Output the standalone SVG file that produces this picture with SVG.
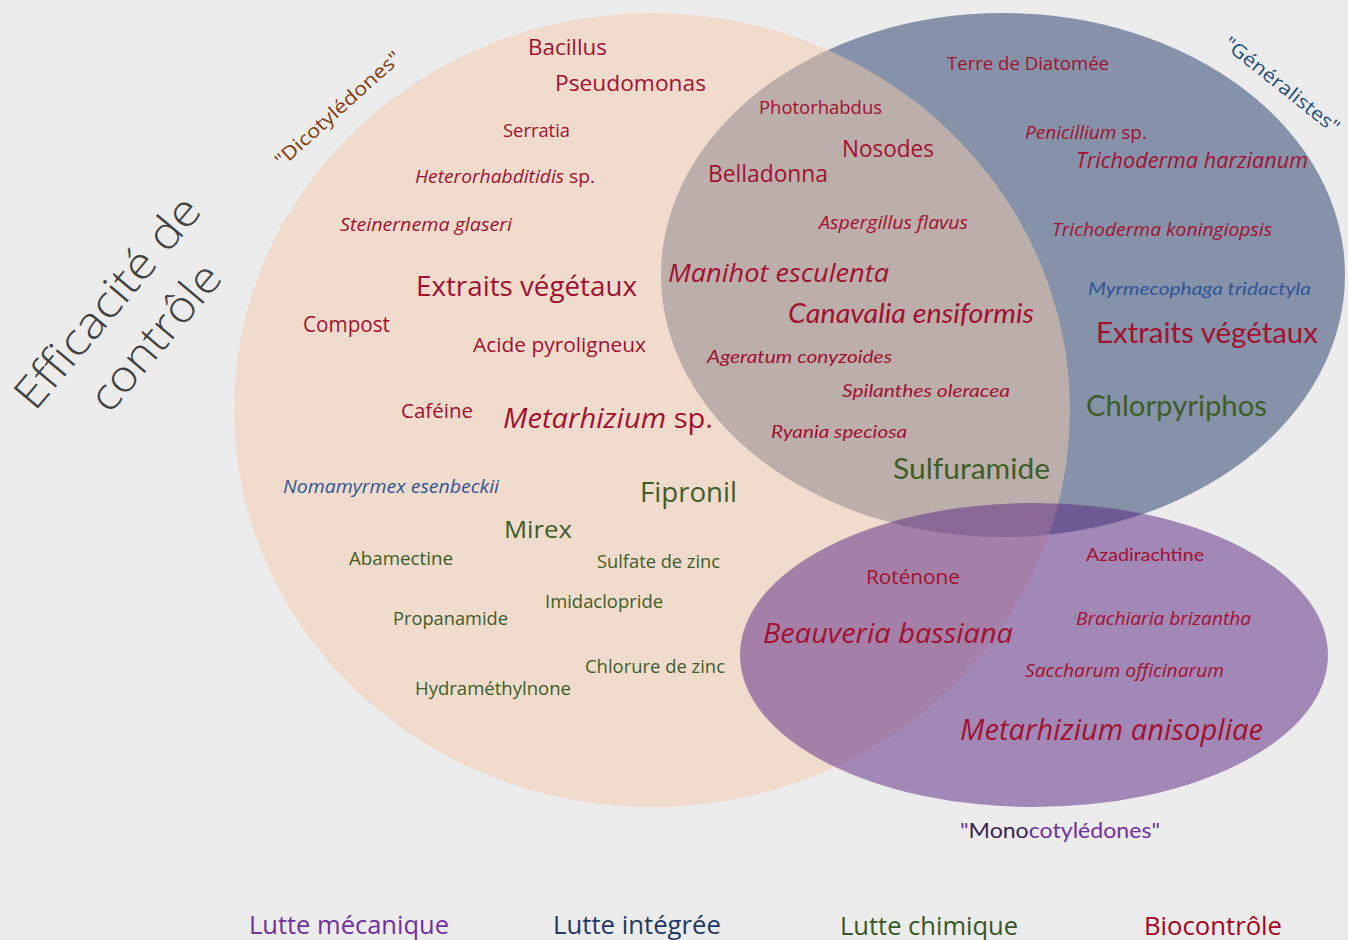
<svg xmlns="http://www.w3.org/2000/svg" width="1348" height="940" viewBox="0 0 1348 940">
<style>
text{font-family:"Open Sans","Noto Sans","DejaVu Sans",sans-serif;}
.n{font-family:Lato,"Open Sans","Liberation Sans",sans-serif;}
.r{fill:#a2112f;}
.g{fill:#3e5e26;}
.b{fill:#2f5597;}
.i{font-style:italic;}
.s{font-size:18px;}
</style>
<rect x="0" y="0" width="1348" height="940" fill="#ececec"/>
<g id="sets">
<ellipse id="generalistes" cx="1003" cy="275" rx="342" ry="262" fill="#8592a9"/>
<ellipse id="dicotyledones" cx="652" cy="410" rx="418" ry="397" fill="#f4caae" fill-opacity="0.5"/>
<ellipse id="monocotyledones" cx="1034" cy="655" rx="294" ry="152" fill="#582482" fill-opacity="0.5"/>
</g>
<g id="set-labels">
<text transform="translate(282,168) rotate(-42)" font-size="19" fill="#843c0c" textLength="162" lengthAdjust="spacingAndGlyphs">"Dicotylédones"</text>
<text transform="translate(1222,46) rotate(38.5)" font-size="19" fill="#1f4e79" textLength="142" lengthAdjust="spacingAndGlyphs">"Généralistes"</text>
<text class="n" x="960" y="838" font-size="21" fill="#7030a0" textLength="200" lengthAdjust="spacingAndGlyphs">"<tspan fill="#3a1f50">Mono</tspan>cotylédones"</text>
<g transform="translate(119,312) rotate(-50)" fill="#404040" font-size="44" font-weight="300">
<text x="0" y="0" text-anchor="middle" textLength="262" lengthAdjust="spacingAndGlyphs">Efficacité de</text>
<text x="4" y="59" text-anchor="middle" textLength="178" lengthAdjust="spacingAndGlyphs">contrôle</text>
</g>
</g>
<g id="dicot-items">
<text class="r" x="528" y="55" font-size="21" textLength="79" lengthAdjust="spacingAndGlyphs">Bacillus</text>
<text class="r" x="555" y="91" font-size="22" textLength="151" lengthAdjust="spacingAndGlyphs">Pseudomonas</text>
<text class="r s" x="503" y="137" textLength="67" lengthAdjust="spacingAndGlyphs">Serratia</text>
<text class="r s" x="415" y="183" textLength="180" lengthAdjust="spacingAndGlyphs"><tspan class="i">Heterorhabditidis</tspan> sp.</text>
<text class="r s i" x="340" y="231" textLength="172" lengthAdjust="spacingAndGlyphs">Steinernema glaseri</text>
<text class="r" x="416" y="296" font-size="28" textLength="221" lengthAdjust="spacingAndGlyphs">Extraits végétaux</text>
<text class="r" x="303" y="332" font-size="21" textLength="87" lengthAdjust="spacingAndGlyphs">Compost</text>
<text class="r" x="473" y="352" font-size="20" textLength="173" lengthAdjust="spacingAndGlyphs">Acide pyroligneux</text>
<text class="r" x="401" y="418" font-size="20" textLength="72" lengthAdjust="spacingAndGlyphs">Caféine</text>
<text class="r" x="503" y="428" font-size="27" textLength="210" lengthAdjust="spacingAndGlyphs"><tspan class="i">Metarhizium</tspan> sp.</text>
<text class="b s i" x="283" y="493" textLength="216" lengthAdjust="spacingAndGlyphs">Nomamyrmex esenbeckii</text>
<text class="g" x="640" y="502" font-size="27" textLength="97" lengthAdjust="spacingAndGlyphs">Fipronil</text>
<text class="g" x="504" y="538" font-size="23" textLength="68" lengthAdjust="spacingAndGlyphs">Mirex</text>
<text class="g s" x="349" y="565" textLength="104" lengthAdjust="spacingAndGlyphs">Abamectine</text>
<text class="g s" x="597" y="568" textLength="123" lengthAdjust="spacingAndGlyphs">Sulfate de zinc</text>
<text class="g s" x="545" y="608" textLength="118" lengthAdjust="spacingAndGlyphs">Imidaclopride</text>
<text class="g s" x="393" y="625" textLength="115" lengthAdjust="spacingAndGlyphs">Propanamide</text>
<text class="g s" x="585" y="673" textLength="140" lengthAdjust="spacingAndGlyphs">Chlorure de zinc</text>
<text class="g s" x="415" y="695" textLength="156" lengthAdjust="spacingAndGlyphs">Hydraméthylnone</text>
</g>
<g id="shared-items">
<text class="r s" x="759" y="114" textLength="123" lengthAdjust="spacingAndGlyphs">Photorhabdus</text>
<text class="r" x="842" y="157" font-size="23" textLength="92" lengthAdjust="spacingAndGlyphs">Nosodes</text>
<text class="r" x="708" y="182" font-size="23" textLength="120" lengthAdjust="spacingAndGlyphs">Belladonna</text>
<text class="r s i" x="819" y="229" textLength="149" lengthAdjust="spacingAndGlyphs">Aspergillus flavus</text>
<text class="r i" x="668" y="282" font-size="26" textLength="221" lengthAdjust="spacingAndGlyphs">Manihot esculenta</text>
<text class="r i n" x="788" y="323" font-size="27" textLength="246" lengthAdjust="spacingAndGlyphs">Canavalia ensiformis</text>
<text class="r s i n" x="707" y="363" textLength="185" lengthAdjust="spacingAndGlyphs">Ageratum conyzoides</text>
<text class="r s i n" x="842" y="397" textLength="168" lengthAdjust="spacingAndGlyphs">Spilanthes oleracea</text>
<text class="r s i n" x="771" y="438" textLength="136" lengthAdjust="spacingAndGlyphs">Ryania speciosa</text>
<text class="g n" x="893" y="479" font-size="29" textLength="157" lengthAdjust="spacingAndGlyphs">Sulfuramide</text>
</g>
<g id="generalist-items">
<text class="r s" x="947" y="70" textLength="162" lengthAdjust="spacingAndGlyphs">Terre de Diatomée</text>
<text class="r s" x="1025" y="139" textLength="122" lengthAdjust="spacingAndGlyphs"><tspan class="i">Penicillium</tspan> sp.</text>
<text class="r i" x="1076" y="168" font-size="21" textLength="232" lengthAdjust="spacingAndGlyphs">Trichoderma harzianum</text>
<text class="r s i" x="1052" y="236" textLength="220" lengthAdjust="spacingAndGlyphs">Trichoderma koningiopsis</text>
<text class="b s i n" x="1088" y="295" textLength="223" lengthAdjust="spacingAndGlyphs">Myrmecophaga tridactyla</text>
<text class="r n" x="1096" y="343" font-size="29" textLength="222" lengthAdjust="spacingAndGlyphs">Extraits végétaux</text>
<text class="g n" x="1086" y="416" font-size="29" textLength="181" lengthAdjust="spacingAndGlyphs">Chlorpyriphos</text>
</g>
<g id="monocot-items">
<text class="r" x="866" y="584" font-size="20" textLength="94" lengthAdjust="spacingAndGlyphs">Roténone</text>
<text class="r s n" x="1086" y="561" textLength="118" lengthAdjust="spacingAndGlyphs">Azadirachtine</text>
<text class="r i" x="763" y="643" font-size="28" textLength="250" lengthAdjust="spacingAndGlyphs">Beauveria bassiana</text>
<text class="r s i" x="1076" y="625" textLength="175" lengthAdjust="spacingAndGlyphs">Brachiaria brizantha</text>
<text class="r s i" x="1025" y="677" textLength="199" lengthAdjust="spacingAndGlyphs">Saccharum officinarum</text>
<text class="r i" x="960" y="740" font-size="30" textLength="303" lengthAdjust="spacingAndGlyphs">Metarhizium anisopliae</text>
</g>
<g id="legend" class="n" font-size="25">
<text x="249" y="934" fill="#7030a0" textLength="200" lengthAdjust="spacingAndGlyphs">Lutte mécanique</text>
<text x="553" y="934" fill="#1f3864" textLength="168" lengthAdjust="spacingAndGlyphs">Lutte intégrée</text>
<text x="840" y="935" fill="#375623" textLength="178" lengthAdjust="spacingAndGlyphs">Lutte chimique</text>
<text x="1144" y="935" fill="#a50021" textLength="138" lengthAdjust="spacingAndGlyphs">Biocontrôle</text>
</g>
</svg>
